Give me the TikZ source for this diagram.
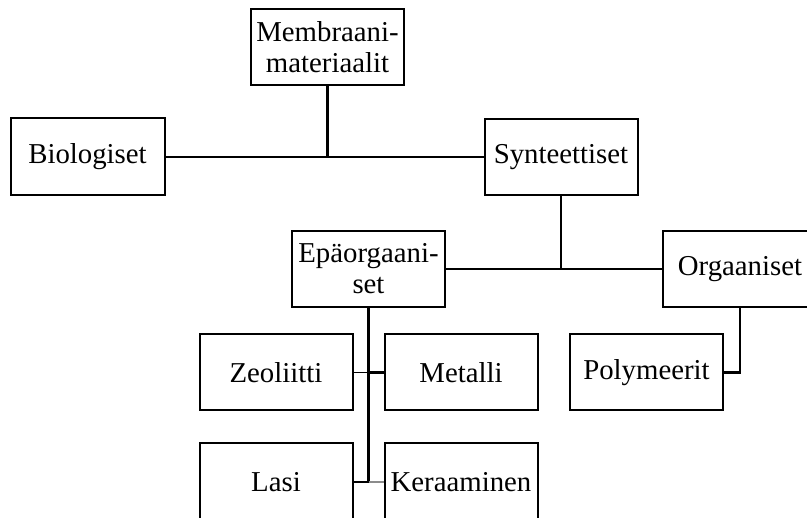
\documentclass[tikz,border=0pt]{standalone}
\usepackage{fontspec}
\setmainfont{Liberation Serif}
\begin{document}
\begin{tikzpicture}[x=1pt,y=-1pt,
  box/.style={draw, line width=2pt, inner sep=0pt, align=center,
    minimum width=153pt, minimum height=76pt,
    font=\fontsize{28.8}{31}\selectfont},
  conn/.style={line width=2.2pt},
  thinconn/.style={line width=1.3pt}]
\clip (0,0) rectangle (807,518);
\fill[white] (0,0) rectangle (807,518);
\node[box] (mem) at (327.5,47.5) {Membraani-\\materiaalit};
\node[box, minimum width=154pt, minimum height=77pt] (bio) at (87.5,157) {Biologiset};
\node[box] (syn) at (561,157) {Synteettiset};
\node[box] (epa) at (368.5,269) {Epäorgaani-\\set};
\node[box, minimum width=154pt] (org) at (740,269) {Orgaaniset};
\node[box] (zeo) at (276,372.5) {Zeoliitti};
\node[box] (met) at (461,372.5) {Metalli};
\node[box] (pol) at (646.5,372.5) {Polymeerit};
\node[box, minimum height=77pt] (lasi) at (276,482) {Lasi};
\node[box, minimum height=77pt] (ker) at (461,482) {Keraaminen};
% connectors
\draw[conn] (mem.south) -- (mem.south |- bio.east);
\draw[thinconn] (bio.east) -- (syn.west);
\draw[conn] (syn.south) -- (syn.south |- epa.east);
\draw[thinconn] (epa.east) -- (org.west);
\draw[conn] (epa.south) -- (epa.south |- lasi.east);
\coordinate (zj) at (zeo.east -| epa.south);
\draw[thinconn] (zeo.east) -- (zj);
\draw[conn] (zj) -- (met.west);
\coordinate (lj) at (lasi.east -| epa.south);
\draw[conn] (lasi.east) -- (lj);
\draw[thinconn, black!45] (lj) -- (ker.west);
\draw[conn] (org.south) -- (org.south |- pol.east) -- (pol.east);
\end{tikzpicture}
\end{document}
